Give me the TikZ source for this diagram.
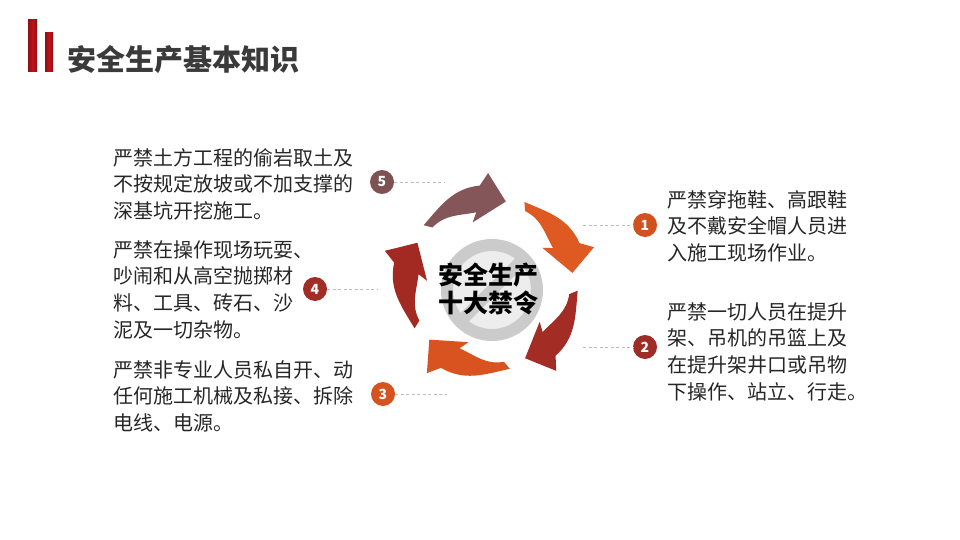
\documentclass[tikz,border=0pt]{standalone}
\usepackage{fontspec}
\setmainfont{Noto Sans CJK SC}
\usetikzlibrary{positioning,calc}

\definecolor{barred}{HTML}{C0121B}
\definecolor{titlegray}{HTML}{3A3A3A}
\definecolor{bodytext}{HTML}{262626}
\definecolor{dashgray}{HTML}{BDBDBD}
\definecolor{signgray}{HTML}{CBCBCB}
\definecolor{signfill}{HTML}{EDEDED}
\definecolor{arrfive}{HTML}{855659}
\definecolor{arrone}{HTML}{DE5A22}
\definecolor{arrtwo}{HTML}{A32D25}
\definecolor{arrthree}{HTML}{D8531F}
\definecolor{arrfour}{HTML}{A32A23}
\definecolor{numfive}{HTML}{7D5253}
\definecolor{numone}{HTML}{D2521F}
\definecolor{numtwo}{HTML}{9D2E27}
\definecolor{numthree}{HTML}{D4531F}
\definecolor{numfour}{HTML}{A22D27}

\begin{document}
\begin{tikzpicture}[x=1pt,y=1pt]
    \tikzstyle{numc}=[circle,minimum size=24,inner sep=0,text=white,font=\bfseries\fontsize{14}{14}\selectfont]
    \tikzstyle{dashline}=[draw=dashgray,line width=0.8,dash pattern=on 3 off 2.5]
    \tikzstyle{ban}=[anchor=north west,align=left,inner sep=0,text=bodytext,font=\fontsize{20}{26.7}\selectfont]
    \useasboundingbox (0,0) rectangle (960,-540);

    % title
    \shade[left color=barred!75!black,right color=barred!75!black,middle color=barred] (28,-20) rectangle (37,-72);
    \shade[left color=barred!75!black,right color=barred!75!black,middle color=barred] (45,-33) rectangle (53,-72);
    \node[anchor=west,inner sep=0,text=titlegray,font=\bfseries\fontsize{29}{30}\selectfont] (title) at (67,-60) {安全生产基本知识};

    % prohibition sign in the middle
    \node[circle,draw=signgray,line width=12,fill=signfill,minimum size=90,inner sep=0] (sign) at (492,-290) {};
    \draw[signgray,line width=12] ($(sign.center)+(45:45)$) -- ($(sign.center)+(225:45)$);
    \node[align=center,inner sep=0,font=\bfseries\fontsize{25}{28}\selectfont] (center) at (488,-289) {安全生产\\十大禁令};

    % ring of arrows
    \begin{scope}[shift={(490,-283)}]
        \foreach \t/\c in {79/arrfive,7/arrone,-65/arrtwo,-137/arrthree,-209/arrfour}
            \fill[\c] (\t+60:88) to[out=\t+60-90,in=\t+17+90] (\t+17:98) -- (\t+12:110) -- (\t:83)
                -- (\t+27:63) -- (\t+22:72) to[out=\t+22+90,in=\t+57-90] (\t+57:80) -- cycle;
    \end{scope}

    % numbers
    \node[numc,fill=numone] (n1) at (645,-225) {1};
    \node[numc,fill=numtwo] (n2) at (645,-347) {2};
    \node[numc,fill=numthree] (n3) at (383,-394) {3};
    \node[numc,fill=numfour] (n4) at (315,-289) {4};
    \node[numc,fill=numfive] (n5) at (382,-182) {5};

    \coordinate (d1) at (583,-225);
    \coordinate (d2) at (583,-347);
    \coordinate (d3) at (447,-394);
    \coordinate (d4) at (378,-289);
    \coordinate (d5) at (445,-182);
    \draw[dashline] (d1) -- (n1);
    \draw[dashline] (d2) -- (n2);
    \draw[dashline] (n3) -- (d3);
    \draw[dashline] (n4) -- (d4);
    \draw[dashline] (n5) -- (d5);

    % texts
    \node[ban] (t1) at (667,-190) {严禁穿拖鞋、高跟鞋\\及不戴安全帽人员进\\入施工现场作业。};
    \node[ban] (t2) at (667,-302) {严禁一切人员在提升\\架、吊机的吊篮上及\\在提升架井口或吊物\\下操作、站立、行走。};
    \node[ban] (t3) at (113,-360) {严禁非专业人员私自开、动\\任何施工机械及私接、拆除\\电线、电源。};
    \node[ban] (t4) at (113,-240) {严禁在操作现场玩耍、\\吵闹和从高空抛掷材\\料、工具、砖石、沙\\泥及一切杂物。};
    \node[ban] (t5) at (113,-148) {严禁土方工程的偷岩取土及\\不按规定放坡或不加支撑的\\深基坑开挖施工。};
\end{tikzpicture}
\end{document}
